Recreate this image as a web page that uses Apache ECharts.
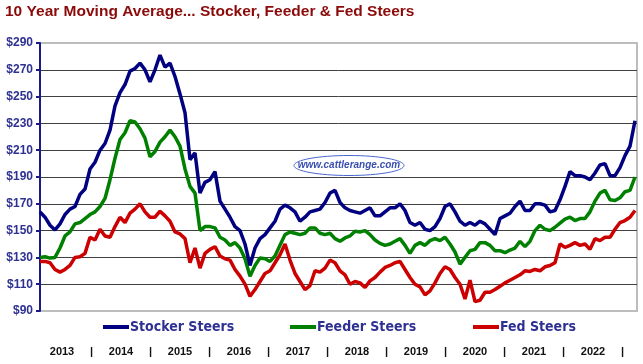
<!DOCTYPE html>
<html>
<head>
<meta charset="utf-8">
<script src="https://cdn.jsdelivr.net/npm/echarts@6/dist/echarts.min.js"></script>
<style>
html,body{margin:0;padding:0;background:#fff;}
#c{width:643px;height:364px;}
</style>
</head>
<body>
<div id="c"></div>
<script>
// Monthly samples, Feb 2013 .. Dec 2022 (index 0..119)
var stocker = [164,160,154,150.5,155,162,166,168,177,181,196,201,210,215,225,243,253,259,269,271,275,270,261,270,281,272,275,265,252,238,203,208,178,186,188,194,172,166,160,153,150,140,124,137,144,147,152,157,166,169,167,164,157,160,164,165,166,171,178,180,171,167,165,164,163,165,167,161,161,164,167,167,170,165,156,154,156,151,150,153,159,168,170,164,157,154,156,154,157,155,151,147,159,161,163,168,172,165,165,170,170,169,164,165,173,183,194,191,191,190,188,193,199,200,191,191,197,206,213,232];
var feeder = [130,130.5,129.5,130,137,146,149,155,156,159,162,164,168,174,188,204,218,223,232,231,226,219,205,209,216,220,225,220,213,196,183,178,150,153,153,152,145,143,139,141,137,129,116,124,129.5,129,127,131,139,147,149,148,147,148,152,152,148,147,148,144,142,144.5,146,149.5,149,150,147,143,140.5,139,140,142,144,139,133,139,141,139,142.5,144,142.5,145,140,134,125,130,135,136,141,141,139,135,135,133.5,135.5,137,142,138,142,150,154,151,150,152.5,155.5,158.5,160,157.5,159,159,164,172,178,180,173,172.5,174.5,179,180,190];
var fed = [127,127,126,121,119,121,124,130,130.5,133,145,143,151,146,145,153,160,156,163,166,170,164,160,160,164.5,161,157,149,147.5,144,126,137,122,133,136,138,131,129,128,121,116,110,101,106,112,118,120,126,132,140,128,118,112,106,109,120,119,122,128,126,120,117,110,112,111,107.5,112.5,115,119,122.5,124,126,127,121,115,110,108,102,105,111,118,123,121,115,110,99,113,97,98,104,104,106,108.5,111,113,115,117,120,119.5,121,120,123,124,126,140,137.5,139,141,139,140,136,144,142.5,145,145,151,156,157.5,160,165];
var years = ['2013','2014','2015','2016','2017','2018','2019','2020','2021','2022'];
var seriesNames = ['Stocker Steers','Feeder Steers','Fed Steers'];
var seriesColors = ['#000080','#008000','#cc0000'];
var yMin = 90, yMax = 290, yStep = 20;

function pairs(arr){ return arr.map(function(v,i){ return [i, v]; }); }

// x-axis label placement (year names and '|' separators)
var labelPos = [], labelTxt = [];
years.forEach(function(y, k){
  labelPos.push(+(4.4 + 11.8*k).toFixed(2)); labelTxt.push(y);
  labelPos.push(+(10.3 + 11.8*k).toFixed(2)); labelTxt.push('|');
});

var chart = echarts.init(document.getElementById('c'), null, {renderer:'canvas'});
var narrow = "'Liberation Sans Narrow','Arial Narrow','DejaVu Sans Condensed',sans-serif";
function legendAt(name, left){
  return {
    data:[name], left:left, top:320, padding:0, icon:'rect', itemWidth:26, itemHeight:4,
    textStyle:{fontFamily:narrow, fontWeight:'bold', fontSize:14, color:'#2e3192', padding:[0,0,0,-4]}
  };
}
chart.setOption({
  animation:false,
  backgroundColor:'#ffffff',
  title:{
    text:'10 Year Moving Average... Stocker, Feeder & Fed Steers',
    left:5, top:4, padding:0,
    textStyle:{fontFamily:"'Liberation Sans',Arial,sans-serif", fontWeight:'bold', fontSize:15.5, color:'#8b0a0a'}
  },
  legend:[legendAt(seriesNames[0],103), legendAt(seriesNames[1],290), legendAt(seriesNames[2],473)],
  grid:{left:40, right:6, top:43, bottom:53, show:true, borderColor:'#bdbdbd', borderWidth:2, backgroundColor:'#ffffff'},
  xAxis:{
    type:'value', min:0, max:119.4,
    axisLine:{show:false}, axisTick:{show:false}, splitLine:{show:false},
    axisLabel:{
      customValues:labelPos, margin:35,
      formatter:function(v){ var i = labelPos.indexOf(+v.toFixed(2)); return i>=0 ? labelTxt[i] : ''; },
      fontFamily:"'Liberation Sans',Arial,sans-serif", fontWeight:'bold', fontSize:11, color:'#111'
    }
  },
  yAxis:{
    type:'value', min:yMin, max:yMax, interval:yStep,
    axisLine:{show:true, lineStyle:{color:'#1a1a8c', width:2}},
    axisTick:{show:true, length:4, lineStyle:{color:'#1a1a8c', width:2}},
    axisLabel:{formatter:function(v){return '$'+v;}, margin:7,
      fontFamily:"'Liberation Sans',Arial,sans-serif", fontWeight:'bold', fontSize:12, color:'#2e3192'},
    splitLine:{show:true, showMinLine:false, showMaxLine:false, lineStyle:{color:'#404040', width:1}}
  },
  graphic:[
    {type:'ellipse', shape:{cx:349, cy:165.5, rx:55, ry:10}, style:{fill:'#ffffff', stroke:'#4a66cc', lineWidth:1}, z:50},
    {type:'text', x:349, y:165.5, style:{text:'www.cattlerange.com', fill:'#3a4fb0', font:"italic bold 10px 'Liberation Sans', Arial, sans-serif", align:'center', verticalAlign:'middle'}, z:51}
  ],
  series:[
    {name:seriesNames[0], type:'line', data:pairs(stocker), showSymbol:false, color:seriesColors[0], lineStyle:{width:3.5, color:seriesColors[0]}, z:5},
    {name:seriesNames[1], type:'line', data:pairs(feeder), showSymbol:false, color:seriesColors[1], lineStyle:{width:3.5, color:seriesColors[1]}, z:4},
    {name:seriesNames[2], type:'line', data:pairs(fed), showSymbol:false, color:seriesColors[2], lineStyle:{width:3.5, color:seriesColors[2]}, z:3}
  ]
});
</script>
</body>
</html>
